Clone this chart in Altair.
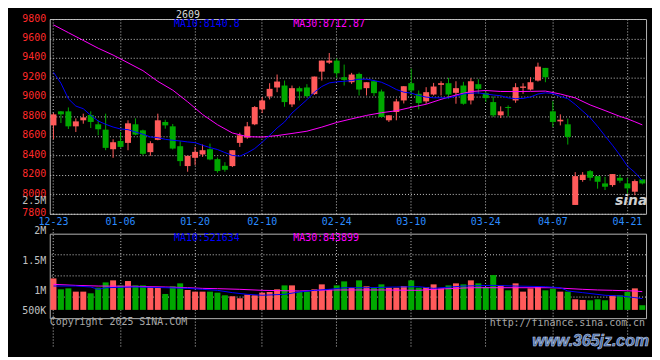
import altair as alt
import pandas as pd

# ---------------- data ----------------
DATES = ["12-23", "12-24", "12-25", "12-26", "12-27", "12-30", "12-31",
         "01-02", "01-03", "01-06", "01-07", "01-08", "01-09", "01-10",
         "01-13", "01-14", "01-15", "01-16", "01-17",
         "01-20", "01-21", "01-22", "01-23", "01-24", "01-27",
         "02-05", "02-06", "02-07",
         "02-10", "02-11", "02-12", "02-13", "02-14",
         "02-17", "02-18", "02-19", "02-20", "02-21",
         "02-24", "02-25", "02-26", "02-27", "02-28",
         "03-03", "03-04", "03-05", "03-06", "03-07",
         "03-10", "03-11", "03-12", "03-13", "03-14",
         "03-17", "03-18", "03-19", "03-20", "03-21",
         "03-24", "03-25", "03-26", "03-27", "03-28",
         "03-31", "04-01", "04-02", "04-03",
         "04-07", "04-08", "04-09", "04-10", "04-11",
         "04-14", "04-15", "04-16", "04-17", "04-18",
         "04-21", "04-22", "04-23"]

LABEL_DATES = ["12-23", "01-06", "01-20", "02-10", "02-24",
               "03-10", "03-24", "04-07", "04-21"]

OPEN = [8708, 8852, 8852, 8698, 8760, 8814, 8719, 8664, 8463, 8548,
        8528, 8719, 8657, 8433, 8559, 8743, 8698, 8494, 8290, 8375,
        8409, 8463, 8361, 8293, 8290, 8528, 8582, 8719, 8872, 9005,
        9097, 9117, 8923, 9090, 9097, 9029, 9260, 9352, 9373, 9202,
        9151, 9236, 9090, 9161, 9056, 8760, 8845, 8964, 9141, 9032,
        8954, 9025, 9124, 9141, 9042, 9117, 8964, 9131, 9039, 8947,
        8811, 8896, 8964, 9093, 9076, 9168, 9298, 8852, 8749, 8719,
        7891, 8147, 8238, 8187, 8112, 8095, 8170, 8112, 8027, 8153]
HIGH = [8835, 8855, 8892, 8780, 8828, 8852, 8760, 8828, 8565, 8640,
        8760, 8780, 8664, 8545, 8828, 8766, 8722, 8545, 8395, 8487,
        8511, 8521, 8378, 8330, 8453, 8633, 8743, 8906, 8998, 9141,
        9230, 9168, 9117, 9107, 9131, 9209, 9373, 9451, 9396, 9332,
        9247, 9250, 9151, 9175, 9076, 8811, 8981, 9110, 9291, 9066,
        9100, 9144, 9161, 9196, 9161, 9155, 9192, 9182, 9066, 9005,
        8903, 8913, 9141, 9141, 9202, 9352, 9298, 8957, 8821, 8777,
        8228, 8228, 8249, 8187, 8180, 8208, 8204, 8167, 8153, 8153]
LOW = [8565, 8732, 8671, 8640, 8725, 8681, 8606, 8453, 8375, 8480,
       8453, 8606, 8402, 8395, 8555, 8674, 8460, 8290, 8232, 8300,
       8385, 8350, 8222, 8232, 8280, 8487, 8570, 8710, 8834, 8974,
       9049, 8899, 8896, 8964, 8998, 9020, 9168, 9339, 9196, 9117,
       9134, 9015, 9015, 9008, 8790, 8743, 8760, 8933, 9015, 8872,
       8930, 9015, 9015, 8981, 8930, 8920, 8923, 9032, 8947, 8794,
       8783, 8800, 8940, 9032, 9066, 9158, 9151, 8691, 8708, 8511,
       7891, 8129, 8140, 8058, 8044, 8078, 8119, 8010, 7990, 8102]
CLOSE = [8821, 8821, 8698, 8749, 8790, 8743, 8668, 8477, 8535, 8487,
         8729, 8613, 8416, 8525, 8760, 8708, 8470, 8341, 8395, 8436,
         8453, 8358, 8239, 8252, 8453, 8606, 8698, 8896, 8964, 9083,
         9158, 8947, 9090, 9056, 9008, 9209, 9373, 9373, 9243, 9175,
         9230, 9076, 9151, 9039, 8794, 8811, 8954, 9110, 9066, 8937,
         9049, 9107, 9141, 9025, 9090, 8930, 9161, 9083, 8988, 8811,
         8852, 8886, 9100, 9107, 9151, 9311, 9202, 8743, 8766, 8589,
         8187, 8201, 8170, 8129, 8078, 8208, 8140, 8061, 8136, 8112]

VOLUME = [1250000, 1067000, 1083000, 1028000, 1028000, 1000000, 1094000, 1183000, 1217000, 1133000,
          1206000, 1133000, 1133000, 1106000, 1106000, 989000, 1117000, 1167000, 1056000, 1028000,
          1028000, 1028000, 1011000, 967000, 950000, 917000, 978000, 967000, 1011000, 1022000,
          1067000, 1133000, 1133000, 1028000, 1028000, 1067000, 1150000, 1067000, 1133000, 1200000,
          1094000, 1217000, 1117000, 1094000, 1150000, 1094000, 1094000, 1122000, 1217000, 1094000,
          1106000, 1150000, 1083000, 1133000, 1167000, 1150000, 1217000, 1167000, 1106000, 1306000,
          1133000, 1050000, 1167000, 1028000, 1083000, 1106000, 1050000, 1078000, 1028000, 1028000,
          900000, 889000, 883000, 900000, 883000, 967000, 967000, 1022000, 1083000, 800000]

MA10_PRICE = [9253, 9141, 8981, 8906, 8879, 8811, 8753, 8719, 8691, 8671,
              8664, 8640, 8617, 8589, 8582, 8565, 8555, 8548, 8538, 8531,
              8504, 8480, 8460, 8429, 8399, 8392, 8426, 8470, 8535, 8606,
              8681, 8743, 8835, 8903, 8971, 9049, 9107, 9144, 9155, 9161,
              9168, 9182, 9182, 9168, 9151, 9117, 9076, 9049, 9039, 9015,
              8998, 8991, 8991, 8990, 9008, 9030, 9038, 9042, 9030, 9020,
              9012, 8990, 8982, 8985, 9000, 9030, 9042, 9035, 9005, 8982,
              8923, 8855, 8787, 8698, 8600, 8504, 8402, 8290, 8225, 8141]

MA30_IDX = [0, 2, 4, 6, 8, 10, 12, 14, 16, 18, 20, 22, 24, 26, 28, 30, 32, 34, 36, 38,
            40, 42, 44, 46, 48, 50, 52, 54, 56, 58, 60, 62, 64, 66, 68, 70, 72, 74, 76,
            77, 78, 79]
MA30_PRICE = [9740, 9660, 9580, 9500, 9430, 9350, 9270, 9160, 9070, 8950, 8820, 8715,
              8630, 8592, 8588, 8603, 8625, 8648, 8690, 8738, 8775, 8810, 8838, 8858,
              8893, 8925, 8975, 9020, 9055, 9066, 9056, 9055, 9057, 9060, 9030, 8990,
              8918, 8860, 8800, 8775, 8745, 8713]

VMA10_IDX = [0, 3, 5, 6, 7, 11, 15, 18, 20, 22, 24, 26, 28, 31, 33, 35, 37, 39, 42, 46,
             49, 51, 55, 59, 62, 66, 68, 69, 71, 74, 76, 78, 79]
VMA10 = [1122000, 1122000, 1106000, 1067000, 1094000, 1106000, 1094000, 1083000, 1067000, 1050000,
         1011000, 983000, 967000, 983000, 1022000, 1050000, 1067000, 1094000, 1094000, 1106000,
         1111000, 1083000, 1122000, 1133000, 1122000, 1111000, 1094000, 1039000, 1011000, 967000,
         956000, 928000, 911000]

VMA30_IDX = [0, 3, 6, 11, 15, 18, 20, 22, 25, 28, 33, 37, 41, 44, 49, 51, 54, 56, 60, 67,
             71, 73, 75, 78, 79]
VMA30 = [1150000, 1133000, 1122000, 1117000, 1106000, 1094000, 1083000, 1078000, 1067000, 1050000,
         1039000, 1056000, 1056000, 1056000, 1050000, 1067000, 1083000, 1094000, 1094000, 1094000,
         1067000, 1056000, 1050000, 1039000, 1028000]

PRICE_TICKS = [9800, 9600, 9400, 9200, 9000, 8800, 8600, 8400, 8200, 8000, 7800]
VOL_TICKS = [2500000, 2000000, 1500000, 1000000, 500000]
VOL_GRID = [1646000, 1292000, 937000]
VOL_BASE = 722000

# ---------------- styling ----------------
FONT = "DejaVu Sans Mono"
RED = "#ff5a5a"
GREEN = "#00a800"
BLUE = "#0000ff"
MAGENTA = "#ff00ff"
GRID = "#c8c8c8"
GREYTXT = "#a8a8a8"

df = pd.DataFrame({"i": list(range(len(DATES))), "date": DATES, "open": OPEN,
                   "high": HIGH, "low": LOW, "close": CLOSE, "vol": VOLUME})
df["dir"] = ["up" if c >= o else "down" for o, c in zip(OPEN, CLOSE)]

color = alt.Color("dir:N", scale=alt.Scale(domain=["up", "down"], range=[RED, GREEN]), legend=None)

xscale = alt.Scale(type="band", domain=DATES, paddingInner=0.2, paddingOuter=0.1)
x_axis_price = alt.Axis(values=LABEL_DATES, labelColor="#2b8cff", labelFont=FONT, labelFontSize=10,
                        labelPadding=3, labelAngle=0, grid=True, gridColor=GRID, gridDash=[1, 2],
                        gridWidth=1, ticks=False, domain=False, bandPosition=0.5, labelOverlap=False)
x_axis_vol = alt.Axis(values=LABEL_DATES, labels=False, grid=True, gridColor=GRID, gridDash=[1, 2],
                      gridWidth=1, ticks=False, domain=False, bandPosition=0.5)


def XP():
    return alt.X("date:O", scale=xscale, axis=x_axis_price, title=None)


def XV():
    return alt.X("date:O", scale=xscale, axis=x_axis_vol, title=None)


yscale_p = alt.Scale(domain=[7800, 9800], nice=False, zero=False)
y_axis_price = alt.Axis(values=PRICE_TICKS, labelColor="#ff2a2a", labelFont=FONT, labelFontSize=10,
                        labelPadding=4, labelBaseline="middle", labelOffset=-1, grid=True,
                        gridColor=GRID, gridDash=[1, 2], gridWidth=1, ticks=False, domain=False,
                        format="d", labelOverlap=False)


def YP(field):
    return alt.Y(field, type="quantitative", scale=yscale_p, axis=y_axis_price, title=None)


yscale_v = alt.Scale(domain=[500000, 2500000], range=[90, -30], nice=False, zero=False)
y_axis_vol = alt.Axis(values=VOL_TICKS,
                      labelExpr="datum.value >= 1000000 ? (datum.value/1000000) + 'M' : (datum.value/1000) + 'K'",
                      labelColor="#c0c0c0", labelFont=FONT, labelFontSize=10, labelPadding=4,
                      labelBaseline="alphabetic",
                      labelOffset={"condition": {"test": "datum.value < 600000", "value": -10}, "value": 0},
                      grid=False, ticks=False, domain=False, labelOverlap=False)


def YV(field):
    return alt.Y(field, type="quantitative", scale=yscale_v, axis=y_axis_vol, title=None)


def note(text, x, y, col, size=10, align="left", baseline="middle", font=FONT, **kw):
    return alt.Chart(alt.Data(values=[{"t": text}])).mark_text(
        align=align, baseline=baseline, font=font, fontSize=size, color=col, **kw
    ).encode(x=alt.value(x), y=alt.value(y), text="t:N")


# ---------------- price panel ----------------
base = alt.Chart(df)
wick = base.mark_rule(strokeWidth=1).encode(x=XP(), y=YP("low"), y2="high:Q", color=color)
body = base.mark_bar().encode(x=XP(), y=YP("open"), y2="close:Q", color=color)

ma10_df = pd.DataFrame({"i": list(range(len(DATES))), "date": DATES, "v": MA10_PRICE})
ma30_df = pd.DataFrame({"i": MA30_IDX, "date": [DATES[k] for k in MA30_IDX], "v": MA30_PRICE})
ma10_line = alt.Chart(ma10_df).mark_line(color=BLUE, strokeWidth=1).encode(
    x=XP(), y=YP("v"), order="i:Q")
ma30_line = alt.Chart(ma30_df).mark_line(color=MAGENTA, strokeWidth=1).encode(
    x=XP(), y=YP("v"), order="i:Q")

price = alt.layer(
    wick, body, ma30_line, ma10_line,
    note("2609", 127, -9, "#d8d8d8", baseline="top"),
    note("MA10:8140.8", 125, 5.5, BLUE),
    note("MA30:8712.87", 245, 5.5, MAGENTA),
    note("sina", 585, 183, "#cfcfcf", size=14, align="center", font="DejaVu Sans",
         fontStyle="italic", fontWeight="bold"),
).properties(width=600, height=196)

# ---------------- volume panel ----------------
vgrid = alt.Chart(pd.DataFrame({"g": VOL_GRID})).mark_rule(
    color=GRID, strokeDash=[1, 2], strokeWidth=1).encode(y=YV("g"))
vbar = base.mark_bar().encode(x=XV(), y=YV("vol"), y2=alt.Y2Datum(VOL_BASE), color=color)

vma10_df = pd.DataFrame({"i": VMA10_IDX, "date": [DATES[k] for k in VMA10_IDX], "v": VMA10})
vma30_df = pd.DataFrame({"i": VMA30_IDX, "date": [DATES[k] for k in VMA30_IDX], "v": VMA30})
vma10_line = alt.Chart(vma10_df).mark_line(color=BLUE, strokeWidth=1).encode(
    x=XV(), y=YV("v"), order="i:Q")
vma30_line = alt.Chart(vma30_df).mark_line(color=MAGENTA, strokeWidth=1).encode(
    x=XV(), y=YV("v"), order="i:Q")

vol = alt.layer(
    vgrid, vbar, vma30_line, vma10_line,
    note("MA10:521634", 125, 4.5, BLUE),
    note("MA30:843899", 245, 4.5, MAGENTA),
    note("Copyright 2025 SINA.COM", 0, 89.3, GREYTXT),
    note("http://finance.sina.com.cn", 599, 89.7, GREYTXT, align="right"),
    note("www.365jz.com", 603, 108.5, "#4169a8", size=16, align="right", font="Liberation Sans",
         fontStyle="italic", fontWeight="bold", stroke="#c0cce0", strokeWidth=0.6),
).properties(width=600, height=85)

chart = alt.vconcat(price, vol, spacing=20, bounds="flush").properties(
    padding={"left": 13, "top": 0, "right": 2, "bottom": 2},
    background="#000000",
).configure_view(stroke="#b4b4b4", strokeWidth=1, fill="#000000")

chart.save("out.html", embed_options={"renderer": "svg", "actions": False})
